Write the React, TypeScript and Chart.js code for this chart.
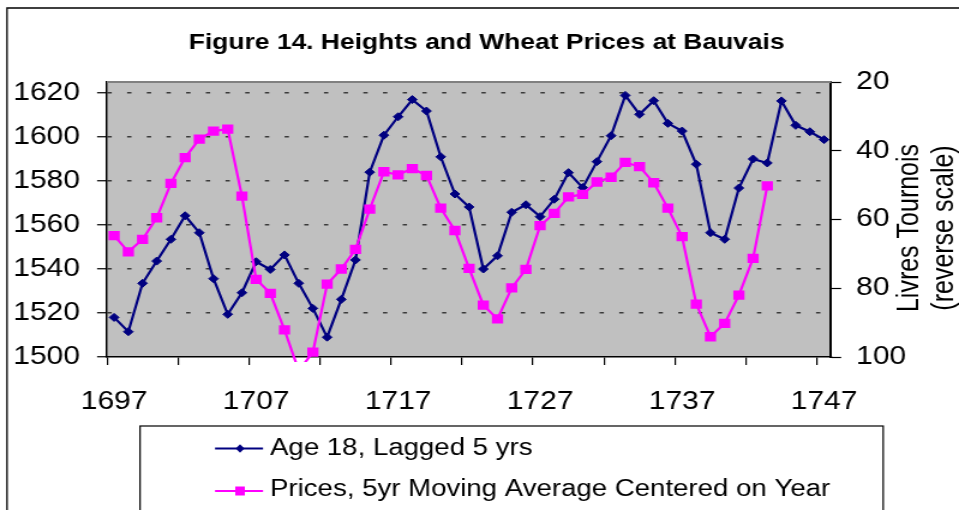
import React, { useEffect, useRef } from 'react';
import { Chart, registerables } from 'chart.js';

Chart.register(...registerables);

// ---------- data ----------
const years = [
  '1697', '1698', '1699', '1700', '1701', '1702', '1703', '1704', '1705', '1706',
  '1707', '1708', '1709', '1710', '1711', '1712', '1713', '1714', '1715', '1716',
  '1717', '1718', '1719', '1720', '1721', '1722', '1723', '1724', '1725', '1726',
  '1727', '1728', '1729', '1730', '1731', '1732', '1733', '1734', '1735', '1736',
  '1737', '1738', '1739', '1740', '1741', '1742', '1743', '1744', '1745', '1746',
  '1747',
];

const heightsAge18 = [
  1518.0, 1511.5, 1533.5, 1543.6, 1553.5, 1564.2, 1556.5, 1535.6, 1519.4, 1529.2,
  1543.3, 1539.8, 1546.4, 1533.5, 1522.1, 1509.0, 1526.2, 1544.1, 1584.0, 1600.8,
  1609.2, 1617.0, 1611.8, 1591.0, 1574.1, 1568.2, 1540.0, 1546.0, 1565.8, 1569.2,
  1563.8, 1571.7, 1583.8, 1577.0, 1588.8, 1600.6, 1618.9, 1610.3, 1616.5, 1606.2,
  1602.7, 1587.6, 1556.5, 1553.5, 1576.8, 1590.0, 1588.2, 1616.4, 1605.3, 1602.4,
  1598.8,
];

const pricesMA5 = [
  64.7, 69.4, 65.8, 59.5, 49.5, 42.0, 36.6, 34.3, 33.7, 53.2,
  77.4, 81.5, 92.1, 104.0, 98.6, 78.8, 74.4, 68.7, 57.0, 46.1,
  47.0, 45.2, 47.2, 56.7, 63.2, 74.2, 84.9, 88.9, 79.9, 74.5,
  61.8, 58.2, 53.4, 52.7, 49.1, 47.7, 43.4, 44.6, 49.3, 56.7,
  65.0, 84.6, 94.1, 90.2, 82.0, 71.3, 50.2, null, null, null,
  null,
];

const xLabelYears = ['1697', '1707', '1717', '1727', '1737', '1747'];
const heightTickValues = [1500, 1510, 1520, 1530, 1540, 1550, 1560, 1570, 1580, 1590, 1600, 1610, 1620];
const heightLabelValues = [1500, 1520, 1540, 1560, 1580, 1600, 1620];
const priceTickValues = [20, 40, 60, 80, 100];

const titleText = 'Figure 14. Heights and Wheat Prices at Bauvais';
const seriesNames = ['Age 18, Lagged 5 yrs', 'Prices, 5yr Moving Average Centered on Year'];
const rightAxisTitle = ['Livres Tournois', '(reverse scale)'];

// ---------- layout (internal canvas px; canvas is stretched 1.2x horizontally by CSS) ----------
const OUT_W = 959;
const OUT_H = 510;
const SX = 1.2;
const W = Math.round(OUT_W / SX);
const H = OUT_H;
const FONT = "'Liberation Sans', Arial, Helvetica, sans-serif";
const NAVY = '#000080';
const PINK = '#ff00ff';

const decorPlugin = {
  id: 'decor',
  beforeDraw(chart: any) {
    const { ctx, chartArea: a } = chart;
    ctx.save();
    ctx.fillStyle = '#ffffff';
    ctx.fillRect(0, 0, chart.width, chart.height);
    // outer chart frame (partially visible)
    ctx.strokeStyle = '#000';
    ctx.lineWidth = 1.3;
    ctx.beginPath();
    ctx.moveTo(7 / SX, H + 5);
    ctx.lineTo(7 / SX, 8);
    ctx.lineTo(W + 5, 8);
    ctx.stroke();
    // plot area background
    ctx.fillStyle = '#c0c0c0';
    ctx.fillRect(a.left, a.top, a.right - a.left, a.bottom - a.top);
    ctx.restore();
  },
  beforeDatasetsDraw(chart: any) {
    const { ctx, chartArea: a } = chart;
    ctx.save();
    ctx.strokeStyle = '#808080';
    ctx.lineWidth = 2;
    ctx.beginPath();
    ctx.moveTo(a.left, a.top);
    ctx.lineTo(a.right, a.top);
    ctx.stroke();
    ctx.restore();
  },
  afterDraw(chart: any) {
    const { ctx } = chart;
    ctx.save();
    // legend box
    ctx.strokeStyle = '#000';
    ctx.lineWidth = 1.2;
    ctx.strokeRect(140 / SX, 426, (883 - 140) / SX, 100);

    const lx1 = 215 / SX;
    const lx2 = 263 / SX;
    const mx = 240 / SX;
    const tx = 270 / SX;
    // entry 1
    const y1 = 448.5;
    ctx.strokeStyle = NAVY;
    ctx.lineWidth = 2.2;
    ctx.beginPath();
    ctx.moveTo(lx1, y1);
    ctx.lineTo(lx2, y1);
    ctx.stroke();
    ctx.fillStyle = NAVY;
    ctx.beginPath();
    ctx.moveTo(mx - 3.6, y1);
    ctx.lineTo(mx, y1 - 4.2);
    ctx.lineTo(mx + 3.6, y1);
    ctx.lineTo(mx, y1 + 4.2);
    ctx.closePath();
    ctx.fill();
    // entry 2
    const y2 = 491;
    ctx.strokeStyle = PINK;
    ctx.beginPath();
    ctx.moveTo(lx1, y2);
    ctx.lineTo(lx2, y2);
    ctx.stroke();
    ctx.fillStyle = PINK;
    ctx.fillRect(mx - 4, y2 - 4.5, 8, 9);

    ctx.fillStyle = '#000';
    ctx.font = `23px ${FONT}`;
    ctx.textAlign = 'left';
    ctx.textBaseline = 'middle';
    ctx.fillText(seriesNames[0], tx, y1);
    ctx.fillText(seriesNames[1], tx, y2 - 1);

    // right axis title (reads bottom to top)
    ctx.font = `25px ${FONT}`;
    ctx.textAlign = 'center';
    ctx.textBaseline = 'middle';
    ctx.translate(758, 228);
    ctx.rotate(-Math.PI / 2);
    ctx.fillText(rightAxisTitle[0], 0, 0);
    ctx.fillText(rightAxisTitle[1], 0, 29);
    ctx.restore();
  },
};

const PLOT_LEFT = 107 / SX;
const PLOT_RIGHT = 831 / SX;
const PLOT_BOTTOM = 357;
const PAD_LEFT = 12;

export default function App() {
  const ref = useRef<HTMLCanvasElement | null>(null);

  useEffect(() => {
    if (!ref.current) return;
    const chart = new Chart(ref.current, {
      type: 'line',
      data: {
        labels: years,
        datasets: [
          {
            label: seriesNames[0],
            data: heightsAge18,
            yAxisID: 'y',
            borderColor: NAVY,
            backgroundColor: NAVY,
            borderWidth: 2.2,
            pointStyle: 'rectRot',
            pointRadius: 4,
            pointBorderWidth: 1,
            pointBackgroundColor: NAVY,
            pointBorderColor: NAVY,
            tension: 0,
            order: 2,
          },
          {
            label: seriesNames[1],
            data: pricesMA5,
            yAxisID: 'y1',
            borderColor: PINK,
            backgroundColor: PINK,
            borderWidth: 2.2,
            pointStyle: 'rect',
            pointRadius: 6.6,
            pointBorderWidth: 0,
            pointBackgroundColor: PINK,
            pointBorderColor: PINK,
            tension: 0,
            spanGaps: false,
            order: 1,
            clip: { left: 0, top: 0, right: 0, bottom: 5 },
          } as any,
        ],
      },
      options: {
        responsive: false,
        maintainAspectRatio: false,
        devicePixelRatio: 1,
        animation: false,
        events: [],
        font: { family: FONT },
        layout: { padding: { left: PAD_LEFT, right: 0, top: 0, bottom: 0 } },
        plugins: {
          legend: { display: false },
          tooltip: { enabled: false },
          title: {
            display: true,
            text: titleText,
            color: '#000',
            font: { family: FONT, size: 22, weight: 'bold' },
            padding: { top: 30, bottom: 25.6 },
          },
        },
        scales: {
          x: {
            type: 'category',
            offset: true,
            grid: {
              offset: true,
              drawOnChartArea: false,
              drawTicks: true,
              tickLength: 8,
              lineWidth: 1.2,
              color: (c: any) => (c.index % 5 === 0 && c.index < years.length ? '#000' : 'rgba(0,0,0,0)'),
            },
            border: { color: '#000', width: 1.5 },
            ticks: {
              autoSkip: false,
              maxRotation: 0,
              minRotation: 0,
              padding: 22.5,
              color: '#000',
              font: { family: FONT, size: 25 },
              callback: (_v: any, i: number) => (xLabelYears.includes(years[i]) ? years[i] : ''),
            },
            afterFit: (s: any) => {
              s.height = H - PLOT_BOTTOM;
            },
          },
          y: {
            type: 'linear',
            position: 'left',
            min: 1500,
            max: 1625,
            afterBuildTicks: (s: any) => {
              s.ticks = heightTickValues.map((v) => ({ value: v }));
            },
            grid: {
              drawOnChartArea: true,
              lineWidth: 1.5,
              tickLength: 8.3,
              tickWidth: 1.2,
              tickColor: '#000',
              color: (c: any) =>
                c.tick && heightLabelValues.includes(c.tick.value) && c.tick.value !== 1500
                  ? '#3a3a3a'
                  : 'rgba(0,0,0,0)',
            },
            border: { color: '#000', width: 1.5, dash: [3.6, 12.8] },
            ticks: {
              padding: 14.2,
              color: '#000',
              font: { family: FONT, size: 25 },
              callback: (v: any) => (heightLabelValues.includes(Number(v)) ? String(v) : ''),
            },
            afterFit: (s: any) => {
              s.width = PLOT_LEFT - PAD_LEFT;
            },
          },
          y1: {
            type: 'linear',
            position: 'right',
            reverse: true,
            min: 20,
            max: 100,
            afterBuildTicks: (s: any) => {
              s.ticks = priceTickValues.map((v) => ({ value: v }));
            },
            grid: {
              drawOnChartArea: false,
              tickLength: 8.3,
              tickWidth: 1.2,
              tickColor: '#000',
              color: '#000',
            },
            border: { color: '#000', width: 2 },
            ticks: {
              padding: 12.5,
              color: '#000',
              font: { family: FONT, size: 25 },
              callback: (v: any) => String(v),
            },
            afterFit: (s: any) => {
              s.width = W - PLOT_RIGHT;
            },
          },
        },
      },
      plugins: [decorPlugin],
    } as any);
    return () => chart.destroy();
  }, []);

  return (
    <div style={{ position: 'absolute', left: 0, top: 0, width: OUT_W, height: OUT_H, overflow: 'hidden', background: '#fff' }}>
      <canvas
        ref={ref}
        width={W}
        height={H}
        style={{ width: `${OUT_W}px`, height: `${OUT_H}px`, display: 'block' }}
      />
    </div>
  );
}
